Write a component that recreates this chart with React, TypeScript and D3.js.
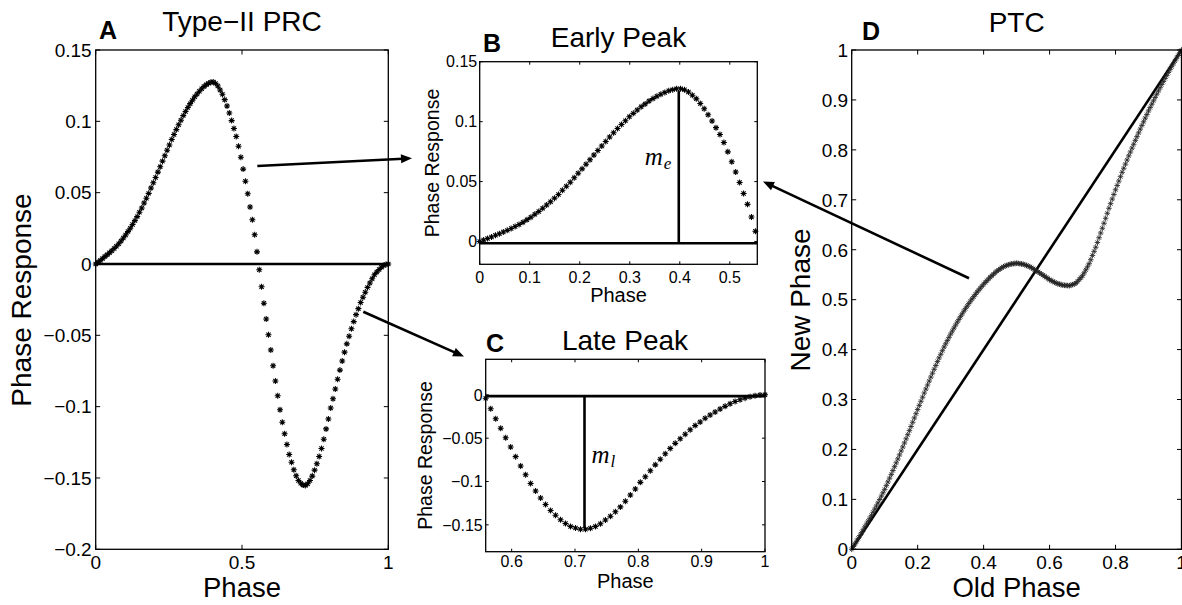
import React from "react";
import * as d3 from "d3";

const prcValues: number[] = [
  0.0, 0.0013, 0.0025, 0.0038, 0.0052, 0.0065, 0.0079, 0.0093, 0.0108, 0.0125,
  0.0142, 0.0161, 0.0182, 0.0203, 0.0227, 0.025, 0.0277, 0.0304, 0.0332, 0.0362,
  0.0393, 0.0427, 0.0461, 0.0495, 0.0532, 0.0569, 0.0606, 0.0644, 0.0682, 0.0721,
  0.0759, 0.0797, 0.0834, 0.0872, 0.0907, 0.0942, 0.0976, 0.1008, 0.104, 0.1069,
  0.1097, 0.1124, 0.1148, 0.1172, 0.1192, 0.1211, 0.1229, 0.1244, 0.1257, 0.1267,
  0.1274, 0.1275, 0.1266, 0.1247, 0.122, 0.119, 0.1152, 0.1108, 0.1058, 0.1005,
  0.095, 0.0893, 0.0826, 0.0748, 0.0665, 0.058, 0.0492, 0.04, 0.031, 0.0205,
  0.0085, -0.004, -0.016, -0.0275, -0.0385, -0.0496, -0.0603, -0.0713, -0.082, -0.0923,
  -0.1022, -0.111, -0.119, -0.1266, -0.1335, -0.139, -0.1442, -0.1484, -0.1518, -0.1537,
  -0.155, -0.1552, -0.154, -0.1518, -0.1487, -0.1445, -0.14, -0.135, -0.1293, -0.1228,
  -0.1156, -0.1087, -0.101, -0.0945, -0.0877, -0.0808, -0.0744, -0.068, -0.0618, -0.056,
  -0.0507, -0.0454, -0.0404, -0.0355, -0.0313, -0.027, -0.0233, -0.0198, -0.0164, -0.0133,
  -0.0103, -0.0076, -0.0057, -0.0038, -0.0023, -0.0011, -0.0003, 0.0,
];
const prcPhase: number[] = prcValues.map((_, i) => i / (prcValues.length - 1));

// PTC: new phase at equally spaced old phases over [0, 1]
const ptcValues: number[] = [
  0.0, 0.0055, 0.011, 0.0165, 0.022, 0.0277, 0.0335, 0.0392, 0.045, 0.0507,
  0.0565, 0.0622, 0.068, 0.0742, 0.0805, 0.0867, 0.093, 0.0997, 0.1065, 0.1132,
  0.12, 0.1275, 0.135, 0.1425, 0.15, 0.1577, 0.1655, 0.1732, 0.181, 0.189,
  0.197, 0.205, 0.213, 0.2212, 0.2295, 0.2377, 0.246, 0.2545, 0.263, 0.2715,
  0.28, 0.2882, 0.2965, 0.3047, 0.313, 0.321, 0.329, 0.337, 0.345, 0.3527,
  0.3605, 0.3682, 0.376, 0.3833, 0.3905, 0.3978, 0.405, 0.4115, 0.418, 0.4245,
  0.431, 0.437, 0.443, 0.449, 0.455, 0.4605, 0.466, 0.4715, 0.477, 0.482,
  0.487, 0.492, 0.497, 0.5015, 0.506, 0.5105, 0.515, 0.519, 0.523, 0.527,
  0.531, 0.5345, 0.538, 0.5415, 0.545, 0.548, 0.551, 0.554, 0.557, 0.5593,
  0.5615, 0.5638, 0.566, 0.5673, 0.5685, 0.5698, 0.571, 0.5715, 0.572, 0.5725,
  0.573, 0.5725, 0.572, 0.5715, 0.571, 0.5698, 0.5685, 0.5673, 0.566, 0.564,
  0.562, 0.56, 0.558, 0.5558, 0.5535, 0.5513, 0.549, 0.5468, 0.5445, 0.5423,
  0.54, 0.5383, 0.5365, 0.5348, 0.533, 0.532, 0.531, 0.53, 0.529, 0.5287,
  0.5285, 0.5282, 0.528, 0.529, 0.5302, 0.5315, 0.533, 0.5365, 0.5405, 0.544,
  0.548, 0.5537, 0.5597, 0.5657, 0.572, 0.58, 0.5885, 0.5967, 0.605, 0.6145,
  0.624, 0.6335, 0.643, 0.653, 0.663, 0.673, 0.683, 0.6922, 0.7015, 0.7107,
  0.72, 0.7287, 0.7375, 0.7462, 0.755, 0.7632, 0.7715, 0.7797, 0.788, 0.7957,
  0.8035, 0.8112, 0.819, 0.8265, 0.834, 0.8415, 0.849, 0.8562, 0.8635, 0.8707,
  0.878, 0.8847, 0.8915, 0.8982, 0.905, 0.9115, 0.918, 0.9245, 0.931, 0.937,
  0.943, 0.949, 0.955, 0.9607, 0.9665, 0.9722, 0.978, 0.9835, 0.989, 0.9945,
  1.0,
];
const ptcOldPhase: number[] = ptcValues.map((_, i) => i / (ptcValues.length - 1));

const zeroLineValue = -0.0015;
const earlyPeakPhase = 0.398;
const earlyPeakValue = 0.1255;
const latePeakPhase = 0.715;
const latePeakValue = -0.154;
const identityLine = [0, 1];

const aXTicks = [0, 0.5, 1];
const aYTicks = [-0.2, -0.15, -0.1, -0.05, 0, 0.05, 0.1, 0.15];
const bXTicks = [0, 0.1, 0.2, 0.3, 0.4, 0.5];
const bYTicks = [0, 0.05, 0.1, 0.15];
const cXTicks = [0.6, 0.7, 0.8, 0.9, 1];
const cYTicks = [-0.15, -0.1, -0.05, 0];
const dXTicks = [0, 0.2, 0.4, 0.6, 0.8, 1];
const dYTicks = [0, 0.1, 0.2, 0.3, 0.4, 0.5, 0.6, 0.7, 0.8, 0.9, 1];

const FONT = "'Liberation Sans', Arial, Helvetica, sans-serif";
const MATH_FONT = "'Liberation Serif', 'DejaVu Serif', serif";

const fmt = (v: number) => {
  if (Math.abs(v) < 1e-9) return "0";
  const s = String(+v.toFixed(3));
  return s.replace("-", "\u2212");
};

function starPath(pts: [number, number][], r: number) {
  const d = r * 0.7071;
  return pts
    .map(
      ([x, y]) =>
        `M${x - r},${y}H${x + r}M${x},${y - r}V${y + r}M${x - d},${y - d}L${x + d},${y + d}M${x - d},${y + d}L${x + d},${y - d}`
    )
    .join("");
}

type PanelProps = {
  left: number;
  right: number;
  top: number;
  bottom: number;
  xDomain: [number, number];
  yDomain: [number, number];
  xTicks: number[];
  yTicks: number[];
  tickFont: number;
  tickLen: number;
  xLabelBaseline: number;
  yLabelGap: number;
  children: (x: d3.ScaleLinear<number, number>, y: d3.ScaleLinear<number, number>) => React.ReactNode;
};

function Panel(p: PanelProps) {
  const x = d3.scaleLinear().domain(p.xDomain).range([p.left, p.right]);
  const y = d3.scaleLinear().domain(p.yDomain).range([p.bottom, p.top]);
  return (
    <g>
      {p.children(x, y)}
      <rect
        x={p.left}
        y={p.top}
        width={p.right - p.left}
        height={p.bottom - p.top}
        fill="none"
        stroke="#000"
        strokeWidth={1.3}
      />
      {p.xTicks.map((t) => (
        <g key={"x" + t}>
          <line x1={x(t)} x2={x(t)} y1={p.bottom} y2={p.bottom - p.tickLen} stroke="#000" strokeWidth={1} />
          <line x1={x(t)} x2={x(t)} y1={p.top} y2={p.top + p.tickLen} stroke="#000" strokeWidth={1} />
          <text x={x(t)} y={p.xLabelBaseline} textAnchor="middle" fontSize={p.tickFont} fontFamily={FONT}>
            {fmt(t)}
          </text>
        </g>
      ))}
      {p.yTicks.map((t) => (
        <g key={"y" + t}>
          <line x1={p.left} x2={p.left + p.tickLen} y1={y(t)} y2={y(t)} stroke="#000" strokeWidth={1} />
          <line x1={p.right} x2={p.right - p.tickLen} y1={y(t)} y2={y(t)} stroke="#000" strokeWidth={1} />
          <text
            x={p.left - p.yLabelGap}
            y={y(t)}
            dy="0.36em"
            textAnchor="end"
            fontSize={p.tickFont}
            fontFamily={FONT}
          >
            {fmt(t)}
          </text>
        </g>
      ))}
    </g>
  );
}

function Arrow({ x1, y1, x2, y2 }: { x1: number; y1: number; x2: number; y2: number }) {
  const ang = Math.atan2(y2 - y1, x2 - x1);
  const L = 11;
  const W = 4.5;
  const bx = x2 - L * Math.cos(ang);
  const by = y2 - L * Math.sin(ang);
  const px = -Math.sin(ang) * W;
  const py = Math.cos(ang) * W;
  return (
    <g>
      <line x1={x1} y1={y1} x2={bx + 2 * Math.cos(ang)} y2={by + 2 * Math.sin(ang)} stroke="#000" strokeWidth={2.6} />
      <path d={`M${x2},${y2}L${bx + px},${by + py}L${bx - px},${by - py}Z`} fill="#000" />
    </g>
  );
}

const arrowAnnotations = [
  { x1: 257.3, y1: 166, x2: 412, y2: 158.3 },
  { x1: 363.3, y1: 311.7, x2: 464, y2: 356.5 },
  { x1: 969, y1: 278.3, x2: 763, y2: 181.5 },
];

export default function App() {
  const prcPts = prcPhase.map((p, i) => ({ p, v: prcValues[i] }));
  const ptcPts = ptcOldPhase.map((p, i) => ({ p, v: ptcValues[i] }));
  const markerColor = "#000";
  const R = 3;
  const SW = 1.05;
  return (
    <svg
      width={1182}
      height={605}
      style={{ position: "absolute", left: 0, top: 0, background: "#fff" }}
      fontFamily={FONT}
    >
      <rect x={0} y={0} width={1182} height={605} fill="#fff" />

      {/* Panel A */}
      <Panel
        left={95.7}
        right={388.3}
        top={50}
        bottom={549.3}
        xDomain={[0, 1]}
        yDomain={[-0.2, 0.15]}
        xTicks={aXTicks}
        yTicks={aYTicks}
        tickFont={19}
        tickLen={4.5}
        xLabelBaseline={569}
        yLabelGap={4}
      >
        {(x, y) => (
          <g>
            <line x1={x(0)} x2={x(1)} y1={y(0)} y2={y(0)} stroke="#000" strokeWidth={2.6} />
            <path
              d={starPath(prcPts.map((d) => [x(d.p), y(d.v)] as [number, number]), R)}
              stroke={markerColor}
              strokeWidth={SW}
              fill="none"
            />
          </g>
        )}
      </Panel>
      <text x={242} y={31} textAnchor="middle" fontSize={28}>Type{"\u2212"}II PRC</text>
      <text x={99} y={39} fontSize={25} fontWeight="bold">A</text>
      <text x={242} y={597} textAnchor="middle" fontSize={27.5}>Phase</text>
      <text transform="translate(31,300) rotate(-90)" textAnchor="middle" fontSize={28}>Phase Response</text>

      {/* Panel B */}
      <Panel
        left={479.7}
        right={757.3}
        top={61.7}
        bottom={264.3}
        xDomain={[0, 0.555]}
        yDomain={[-0.019, 0.15]}
        xTicks={bXTicks}
        yTicks={bYTicks}
        tickFont={16}
        tickLen={3}
        xLabelBaseline={283.3}
        yLabelGap={2.5}
      >
        {(x, y) => (
          <g>
            <line x1={x(0)} x2={x(0.555)} y1={y(zeroLineValue)} y2={y(zeroLineValue)} stroke="#000" strokeWidth={2.6} />
            <line
              x1={x(earlyPeakPhase)}
              x2={x(earlyPeakPhase)}
              y1={y(zeroLineValue)}
              y2={y(earlyPeakValue)}
              stroke="#000"
              strokeWidth={2.6}
            />
            <path
              d={starPath(
                prcPts.filter((d) => d.p <= 0.555).map((d) => [x(d.p), y(d.v)] as [number, number]),
                R
              )}
              stroke={markerColor}
              strokeWidth={SW}
              fill="none"
            />
            <text x={x(earlyPeakPhase) - 34} y={165} fontFamily={MATH_FONT} fontStyle="italic" fontSize={25}>
              m
              <tspan dx={1} dy={4} fontSize={17}>e</tspan>
            </text>
          </g>
        )}
      </Panel>
      <text x={618.5} y={46.7} textAnchor="middle" fontSize={28}>Early Peak</text>
      <text x={483} y={51.5} fontSize={25} fontWeight="bold">B</text>
      <text x={618.5} y={302} textAnchor="middle" fontSize={20}>Phase</text>
      <text transform="translate(439,163) rotate(-90)" textAnchor="middle" fontSize={19.5}>Phase Response</text>

      {/* Panel C */}
      <Panel
        left={485.7}
        right={765}
        top={359.3}
        bottom={551.7}
        xDomain={[0.559, 1]}
        yDomain={[-0.181, 0.041]}
        xTicks={cXTicks}
        yTicks={cYTicks}
        tickFont={16}
        tickLen={3}
        xLabelBaseline={566.7}
        yLabelGap={3}
      >
        {(x, y) => (
          <g>
            <line x1={x(0.559)} x2={x(1)} y1={y(zeroLineValue)} y2={y(zeroLineValue)} stroke="#000" strokeWidth={2.6} />
            <line
              x1={x(latePeakPhase)}
              x2={x(latePeakPhase)}
              y1={y(zeroLineValue)}
              y2={y(latePeakValue)}
              stroke="#000"
              strokeWidth={2.6}
            />
            <path
              d={starPath(
                prcPts.filter((d) => d.p >= 0.555).map((d) => [x(d.p), y(d.v)] as [number, number]),
                R
              )}
              stroke={markerColor}
              strokeWidth={SW}
              fill="none"
            />
            <text x={x(latePeakPhase) + 7} y={463.3} fontFamily={MATH_FONT} fontStyle="italic" fontSize={25}>
              m
              <tspan dx={1} dy={4} fontSize={17}>l</tspan>
            </text>
          </g>
        )}
      </Panel>
      <text x={625} y={350} textAnchor="middle" fontSize={28}>Late Peak</text>
      <text x={486} y={351.5} fontSize={25} fontWeight="bold">C</text>
      <text x={625.3} y={587.5} textAnchor="middle" fontSize={20}>Phase</text>
      <text transform="translate(432,455.5) rotate(-90)" textAnchor="middle" fontSize={19.5}>Phase Response</text>

      {/* Panel D */}
      <Panel
        left={851.7}
        right={1181.5}
        top={50}
        bottom={549.3}
        xDomain={[0, 1]}
        yDomain={[0, 1]}
        xTicks={dXTicks}
        yTicks={dYTicks}
        tickFont={19}
        tickLen={4.5}
        xLabelBaseline={569}
        yLabelGap={3.5}
      >
        {(x, y) => (
          <g>
            <line
              x1={x(identityLine[0])}
              y1={y(identityLine[0])}
              x2={x(identityLine[1])}
              y2={y(identityLine[1])}
              stroke="#000"
              strokeWidth={2.6}
            />
            <path
              d={starPath(ptcPts.map((d) => [x(d.p), y(d.v)] as [number, number]), 2.8)}
              stroke="#222"
              strokeWidth={0.85}
              fill="none"
            />
          </g>
        )}
      </Panel>
      <text x={1016.7} y={31.7} textAnchor="middle" fontSize={28}>PTC</text>
      <text x={862} y={40} fontSize={25} fontWeight="bold">D</text>
      <text x={1016.7} y={597} textAnchor="middle" fontSize={27.5}>Old Phase</text>
      <text transform="translate(810,300) rotate(-90)" textAnchor="middle" fontSize={28}>New Phase</text>

      {arrowAnnotations.map((a, i) => (
        <Arrow key={i} {...a} />
      ))}
    </svg>
  );
}
